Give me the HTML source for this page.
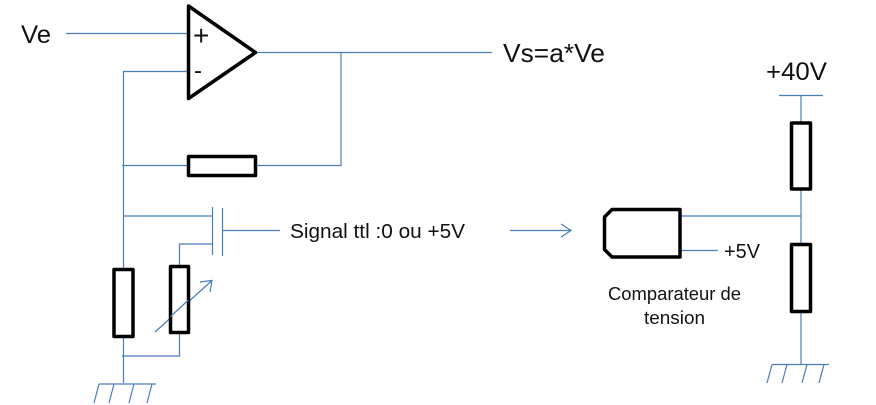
<!DOCTYPE html>
<html>
<head>
<meta charset="utf-8">
<style>
html,body{margin:0;padding:0;background:#fff;}
svg{display:block;}
text{font-family:"Liberation Sans",sans-serif;fill:#111;}
.w{stroke:#4a7ebb;stroke-width:1.2;fill:none;}
.b{stroke:#000;stroke-width:3.5;fill:#fff;stroke-linejoin:round;}
</style>
</head>
<body>
<svg width="876" height="405" viewBox="0 0 876 405" xmlns="http://www.w3.org/2000/svg">
<rect width="876" height="405" fill="#fff"/>
<!-- wires -->
<path class="w" d="M66 33.5H188M123.5 71.5H188M123.5 71V383M122 165.5H188M255 165.5H341V52.5M256 52.5H492"/>
<path class="w" d="M123 216H212.5M212.5 207V255M222.5 208V256M222.5 230.5H280M212.5 244H179.5V266M179.5 333V356H122"/>
<path class="w" d="M99 384H156M99 384L94 403M114 384L109 403M134 384L129 403M152 384L147 403"/>
<path class="w" d="M155 332L212 280.5M200 282L212 280.5L210 292"/>
<path class="w" d="M510 230.5H571M561 224L571 230.5L561 237"/>
<path class="w" d="M779 95.5H823M801 95V364M680 216H801M680 250.5H718"/>
<path class="w" d="M772 364.5H829M772 364.5L767 383M787 364.5L782 383M807 364.5L802 383M824 364.5L819 383"/>
<!-- components -->
<path class="b" style="fill:none" d="M188.5 6V98.5L255.5 52.5Z"/>
<rect class="b" x="188.5" y="156.5" width="67" height="19"/>
<rect class="b" x="114" y="269.5" width="19" height="67"/>
<rect class="b" x="170.5" y="266.5" width="18" height="66"/>
<path class="w" d="M170.5 316.5L188.5 300"/>
<rect class="b" x="791.5" y="123" width="19" height="66"/>
<rect class="b" x="791.5" y="244.5" width="19" height="67"/>
<path class="b" d="M604.5 217V249.5L612 257H680V209.5H612Z"/>
<!-- labels -->
<text x="21" y="43" font-size="25" textLength="30" lengthAdjust="spacingAndGlyphs">Ve</text>
<text x="193" y="45" font-size="28">+</text>
<text x="194" y="78.500" font-size="24">-</text>
<text x="503" y="62" font-size="26" textLength="102" lengthAdjust="spacingAndGlyphs">Vs=a*Ve</text>
<text x="766" y="80" font-size="25" textLength="61" lengthAdjust="spacingAndGlyphs">+40V</text>
<text x="290" y="238" font-size="20" textLength="175" lengthAdjust="spacingAndGlyphs">Signal ttl :0 ou +5V</text>
<text x="724" y="258" font-size="20" textLength="36" lengthAdjust="spacingAndGlyphs">+5V</text>
<text x="608" y="300" font-size="18" textLength="133" lengthAdjust="spacingAndGlyphs">Comparateur de</text>
<text x="644" y="324" font-size="18" textLength="61" lengthAdjust="spacingAndGlyphs">tension</text>
</svg>
</body>
</html>
